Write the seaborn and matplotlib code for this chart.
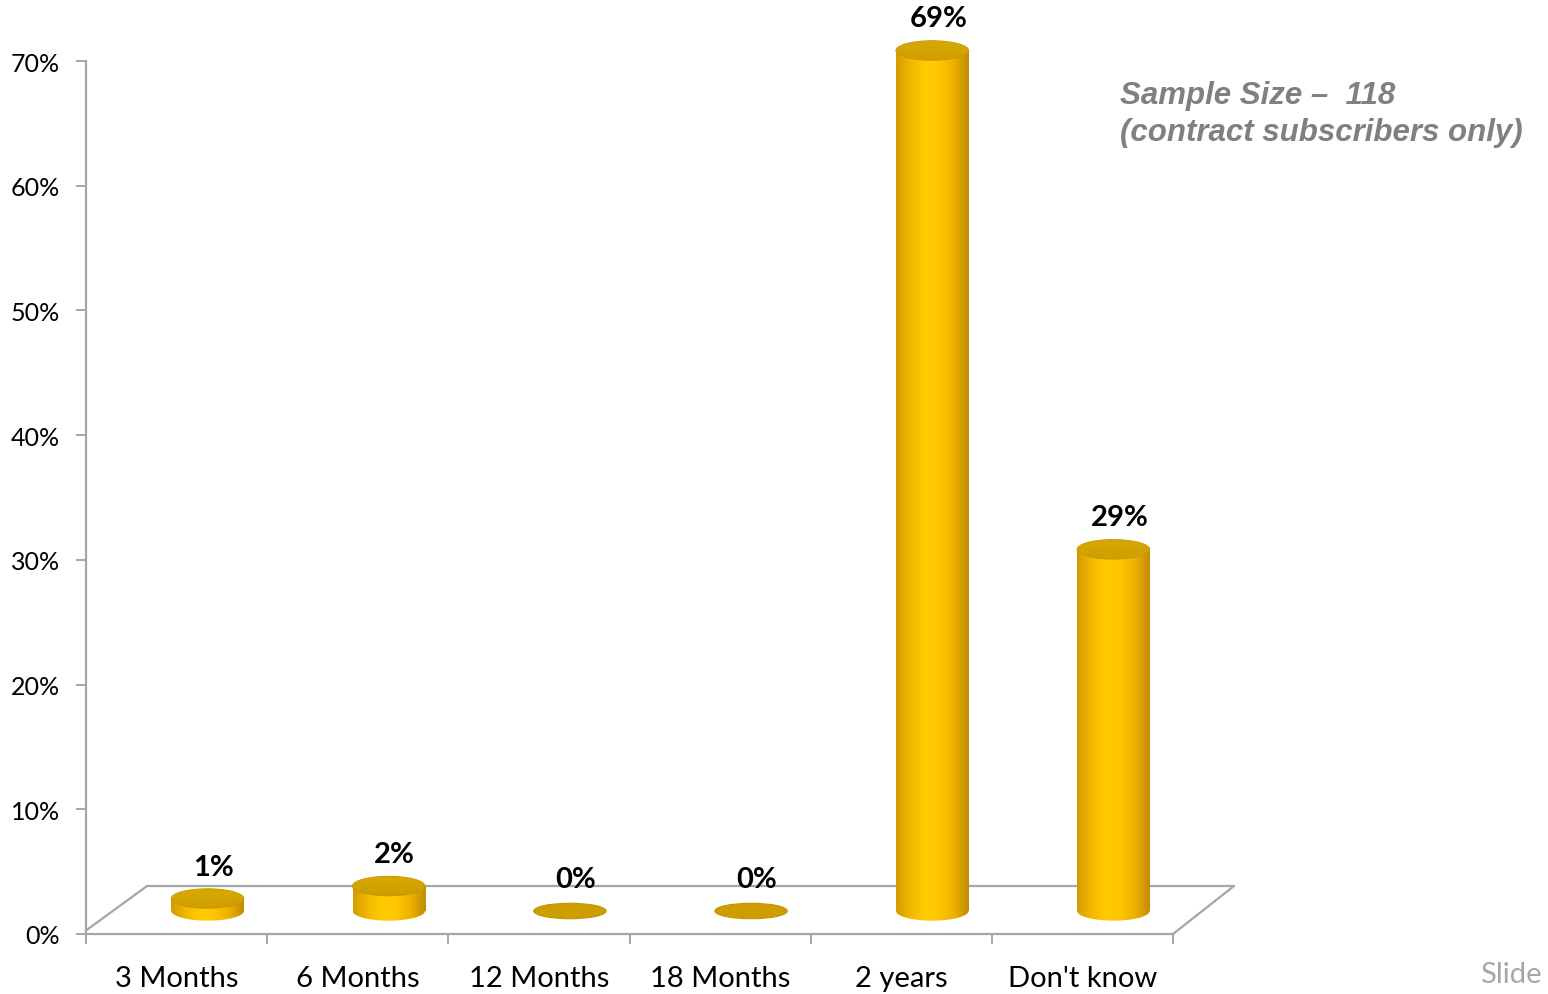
import matplotlib
matplotlib.use("Agg")
import matplotlib.pyplot as plt
import matplotlib.transforms as mtrans
from matplotlib.patches import Ellipse
from matplotlib.colors import LinearSegmentedColormap
from matplotlib.ticker import FixedLocator, PercentFormatter
import numpy as np
import pandas as pd
import seaborn as sns

categories = ["3 Months", "6 Months", "12 Months", "18 Months", "2 years", "Don't know"]
values = [0.01, 0.02, 0.0, 0.0, 0.69, 0.29]
value_labels = ["1%", "2%", "0%", "0%", "69%", "29%"]
y_ticks = [0.0, 0.1, 0.2, 0.3, 0.4, 0.5, 0.6, 0.7]
note_text = "Sample Size \u2013  118\n(contract subscribers only)"
footer_text = "Slide"

sns.set_theme(style="white")
plt.rcParams["font.family"] = ["Lato", "DejaVu Sans"]

df = pd.DataFrame({"cat": categories, "val": values})

fig = plt.figure(figsize=(15.48, 9.95), dpi=100)
ax = fig.add_axes([86/1548, 60/995, 1087/1548, 873/995])

bar_w = 0.40
sns.barplot(data=df, x="cat", y="val", ax=ax, width=bar_w, color="#FFC000",
            edgecolor="none", linewidth=0, zorder=3)

ax.set_xlim(-0.5, 5.5)
ax.set_ylim(0, 0.70)

# 3D-like depth offset
shift = mtrans.ScaledTranslation(31/100, 23/100, fig.dpi_scale_trans)
tr = ax.transData + shift

cmap = LinearSegmentedColormap.from_list(
    "cyl", ["#D29C00", "#F2B800", "#FFCB00", "#FFC600", "#EDB000", "#BF8C00"])
cap_cmap = LinearSegmentedColormap.from_list(
    "cap", ["#C29400", "#CFA000", "#D6A800", "#C99B00"])
grad = np.linspace(0, 1, 256).reshape(1, -1)
cap_h = 0.0155  # ellipse height in data units


def grad_fill(img, extent, clip, cm, z):
    im = ax.imshow(img, cmap=cm, aspect="auto", extent=extent, transform=tr,
                   zorder=z, interpolation="bicubic")
    im.set_clip_box(fig.bbox)
    im.set_clip_path(clip)
    return im


for i, p in enumerate(list(ax.patches)):
    x0 = p.get_x()
    w = p.get_width()
    h = p.get_height()
    p.set_transform(tr)
    p.set_visible(False)
    cx = x0 + w / 2
    if h > 0:
        body = plt.Rectangle((x0, 0), w, h, transform=tr, facecolor="none",
                             edgecolor="none", clip_on=False)
        ax.add_patch(body)
        grad_fill(grad, (x0, x0 + w, 0, h), body, cmap, 3)
        bot = Ellipse((cx, 0), w, cap_h, transform=tr, facecolor="none",
                      edgecolor="none", clip_on=False)
        ax.add_patch(bot)
        grad_fill(grad, (x0, x0 + w, -cap_h, cap_h), bot, cmap, 3)
        top = Ellipse((cx, h), w, cap_h, transform=tr, facecolor="none",
                      edgecolor="#C29400", linewidth=0.8, zorder=4,
                      clip_on=False)
        ax.add_patch(top)
        grad_fill(grad.T[::-1], (x0, x0 + w, h - cap_h, h + cap_h), top,
                  cap_cmap, 4)
    else:
        flat = Ellipse((cx, 0), w, cap_h * 0.8, transform=tr,
                       facecolor="#CC9E00", edgecolor="#C49500", linewidth=0.8,
                       zorder=4, clip_on=False)
        ax.add_patch(flat)
    ax.annotate(value_labels[i], xy=(cx, h), xycoords=tr,
                xytext=(6, 32), textcoords="offset pixels",
                ha="center", va="center", fontsize=21, fontweight="bold",
                color="black", zorder=5, annotation_clip=False)

ax.set_xlim(-0.5, 5.5)
ax.set_ylim(0, 0.70)

for s in ["top", "right"]:
    ax.spines[s].set_visible(False)
for s in ["left", "bottom"]:
    ax.spines[s].set_color("#A6A6A6")
    ax.spines[s].set_linewidth(1.6)

ax.yaxis.set_major_locator(FixedLocator(y_ticks))
ax.yaxis.set_major_formatter(PercentFormatter(1.0, decimals=0))
ax.tick_params(axis="y", which="major", direction="out", length=7, width=1.4,
               color="#A6A6A6", labelsize=18, labelcolor="black", pad=12,
               left=True)
ax.set_xticks(range(len(categories)))
ax.set_xticklabels(categories)
ax.set_xticks(np.arange(-0.5, len(categories), 1.0), minor=True)
ax.tick_params(axis="x", which="major", length=0, labelsize=21,
               labelcolor="black", pad=22)
ax.tick_params(axis="x", which="minor", direction="out", length=7, width=1.4,
               color="#A6A6A6", bottom=True)
ax.set_xlabel("")
ax.set_ylabel("")
ax.grid(False)

# floor parallelogram
dx = 61/1087
dy = 48/873
fl = dict(transform=ax.transAxes, color="#A6A6A6", lw=1.6, clip_on=False, zorder=2)
ax.plot([0, dx], [0.004, dy], **fl)
ax.plot([dx, 1 + dx], [dy, dy], **fl)
ax.plot([1, 1 + dx], [0, dy], **fl)

fig.text(1120/1548, 1 - 81/995, note_text, ha="left", va="top",
         fontsize=22.5, fontweight="bold", fontstyle="italic", color="#808080",
         family=["Liberation Sans", "DejaVu Sans"], linespacing=1.3)
fig.text(1542/1548, 1 - 975/995, footer_text, ha="right", va="center",
         fontsize=21, color="#A6A6A6")

fig.savefig("out.png", dpi=100)
